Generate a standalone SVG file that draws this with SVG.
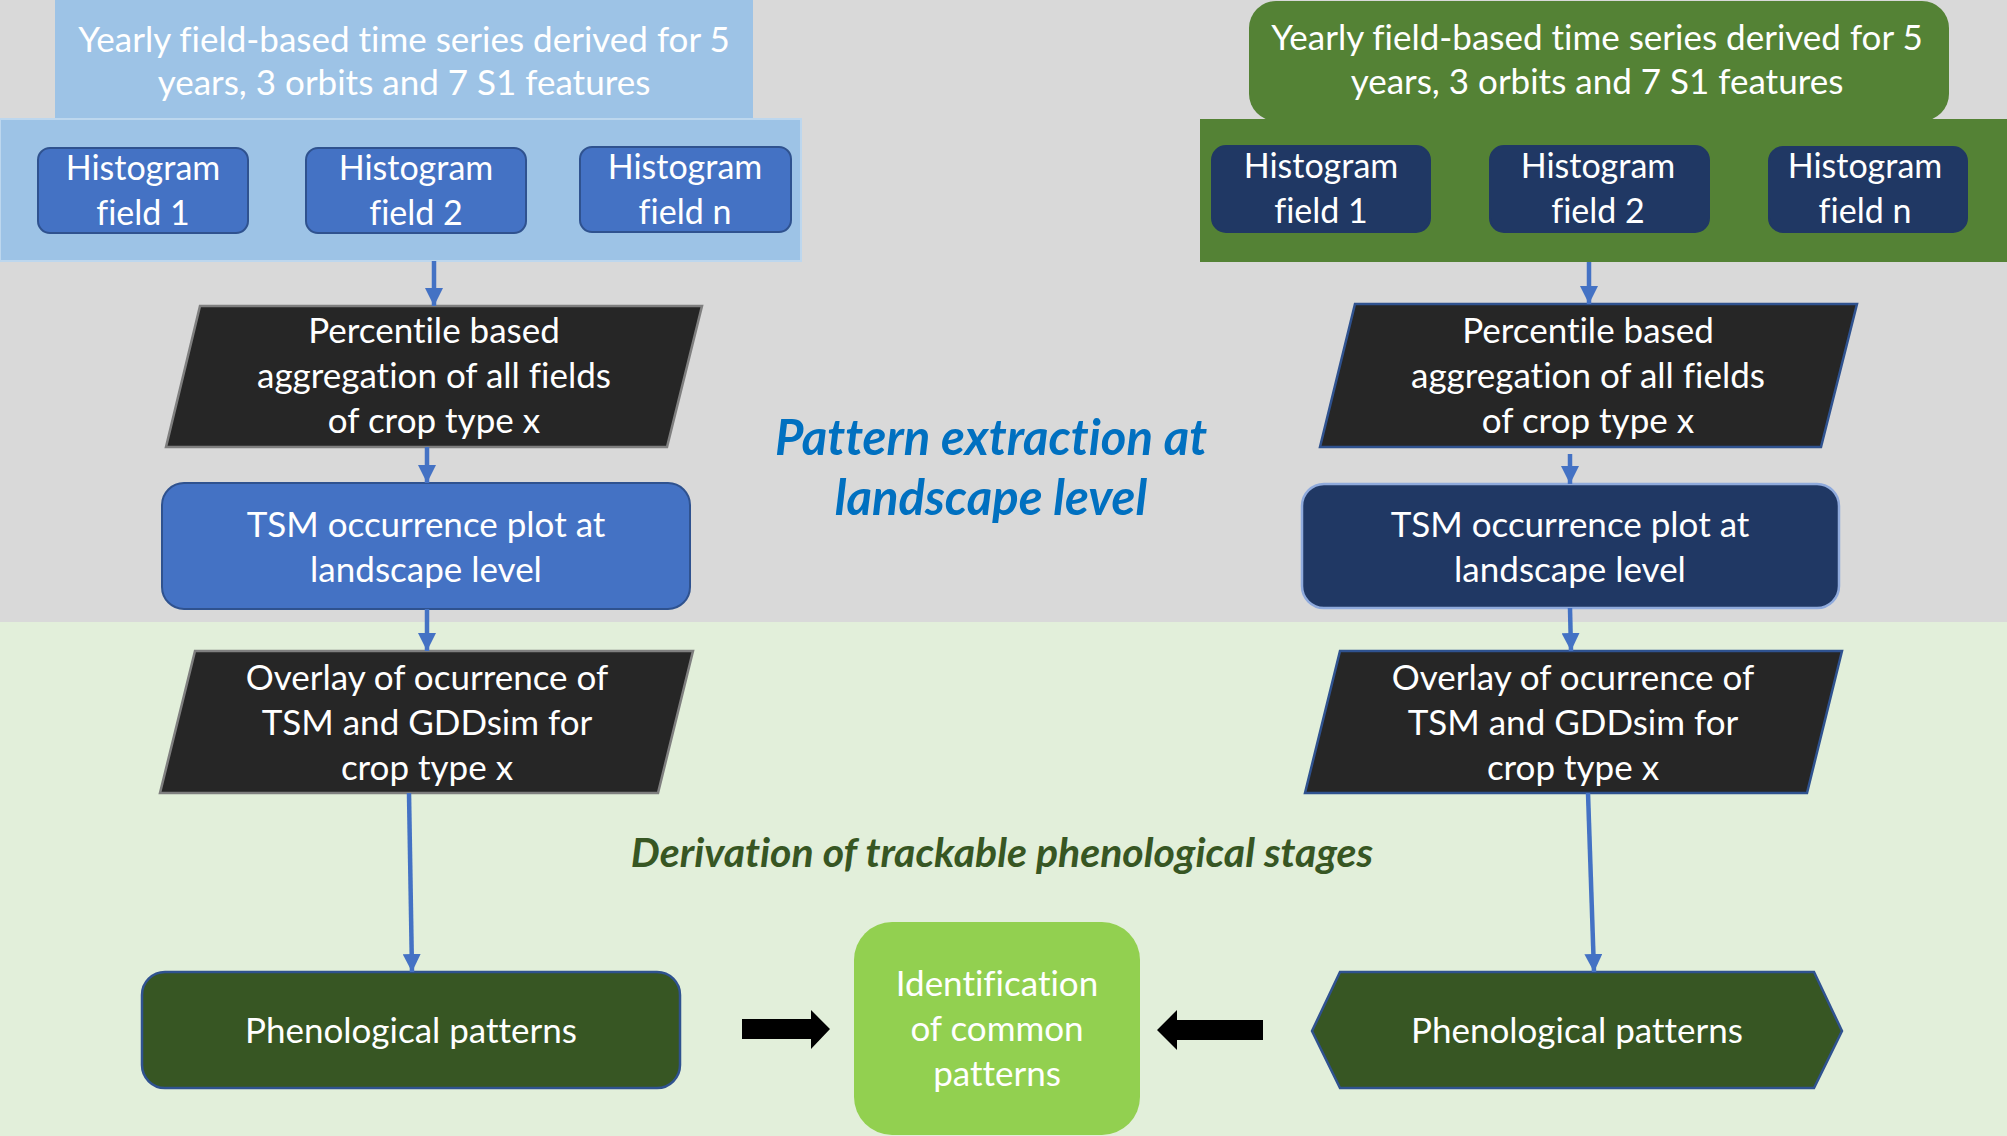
<svg xmlns="http://www.w3.org/2000/svg" width="2007" height="1136" viewBox="0 0 2007 1136">
<defs>
<marker id="ah" markerUnits="userSpaceOnUse" markerWidth="20" markerHeight="18" viewBox="0 0 20 18" refX="18" refY="9" orient="auto">
<path d="M0,0 L18,9 L0,18 z" fill="#4472C4"/>
</marker>
<style>
text{font-family:Lato,"Open Sans","Liberation Sans",sans-serif;fill:#fff;text-anchor:middle;font-variant-ligatures:none}
.t{font-size:35px}
.h{font-size:34px}
.lblue{fill:#0070C0;font-weight:bold;font-style:italic;font-size:49px}
.lgreen{fill:#375623;font-weight:bold;font-style:italic;font-size:41px}
.hl{fill:#4472C4;stroke:#2F528F;stroke-width:2}
.hr{fill:#203864;stroke:#203864;stroke-width:2}
.par{fill:#262626;stroke:#7F7F7F;stroke-width:2.5}
.parb{fill:#262626;stroke:#2F528F;stroke-width:2.5}
.ph{fill:#375623;stroke:#2F528F;stroke-width:2.5}
.c{stroke:#4472C4;stroke-width:4.5;fill:none;marker-end:url(#ah)}
</style>
</defs>
<rect x="0" y="0" width="2007" height="622" fill="#D9D9D9"/>
<rect x="0" y="622" width="2007" height="514" fill="#E2EFDA"/>

<g id="left-top">
<rect x="55" y="0" width="698" height="121" fill="#9DC3E6"/>
<text class="t" x="404" y="52">Yearly field-based time series derived for 5</text>
<text class="t" x="404" y="95">years, 3 orbits and 7 S1 features</text>
</g>
<g id="left-band">
<rect x="0" y="119" width="801" height="142" fill="#9DC3E6" stroke="#BDD7EE" stroke-width="2"/>
</g>
<g id="left-hist1">
<rect class="hl" x="38" y="148" width="210" height="85" rx="12"/>
<text class="h" x="143" y="180">Histogram</text>
<text class="h" x="143" y="225">field 1</text>
</g>
<g id="left-hist2">
<rect class="hl" x="306" y="148" width="220" height="85" rx="12"/>
<text class="h" x="416" y="180">Histogram</text>
<text class="h" x="416" y="225">field 2</text>
</g>
<g id="left-histn">
<rect class="hl" x="580" y="147" width="211" height="85" rx="12"/>
<text class="h" x="685" y="179">Histogram</text>
<text class="h" x="685" y="224">field n</text>
</g>
<g id="left-percentile">
<polygon class="par" points="200,306 702,306 667,447 166,447"/>
<text class="t" x="434" y="343">Percentile based</text>
<text class="t" x="434" y="388">aggregation of all fields</text>
<text class="t" x="434" y="433">of crop type x</text>
</g>
<g id="left-tsm">
<rect class="hl" x="162" y="483" width="528" height="126" rx="22"/>
<text class="t" x="426" y="537">TSM occurrence plot at</text>
<text class="t" x="426" y="582">landscape level</text>
</g>
<g id="left-overlay">
<polygon class="par" points="195,651 693,651 658,793 160,793"/>
<text class="t" x="427" y="690">Overlay of ocurrence of</text>
<text class="t" x="427" y="735">TSM and GDDsim for</text>
<text class="t" x="427" y="780">crop type x</text>
</g>
<g id="left-pheno">
<rect class="ph" x="142" y="972" width="538" height="116" rx="23"/>
<text class="t" x="411" y="1043">Phenological patterns</text>
</g>

<g id="right-top">
<rect x="1249" y="1" width="700" height="120" rx="27" fill="#548235"/>
<text class="t" x="1597" y="50">Yearly field-based time series derived for 5</text>
<text class="t" x="1597" y="94">years, 3 orbits and 7 S1 features</text>
</g>
<g id="right-band">
<rect x="1200" y="119" width="807" height="143" fill="#548235"/>
</g>
<g id="right-hist1">
<rect class="hr" x="1212" y="146" width="218" height="86" rx="14"/>
<text class="h" x="1321" y="178">Histogram</text>
<text class="h" x="1321" y="223">field 1</text>
</g>
<g id="right-hist2">
<rect class="hr" x="1490" y="146" width="219" height="86" rx="14"/>
<text class="h" x="1598" y="178">Histogram</text>
<text class="h" x="1598" y="223">field 2</text>
</g>
<g id="right-histn">
<rect class="hr" x="1769" y="147" width="198" height="85" rx="14"/>
<text class="h" x="1865" y="178">Histogram</text>
<text class="h" x="1865" y="223">field n</text>
</g>
<g id="right-percentile">
<polygon class="parb" points="1355,304 1857,304 1821,447 1320,447"/>
<text class="t" x="1588" y="343">Percentile based</text>
<text class="t" x="1588" y="388">aggregation of all fields</text>
<text class="t" x="1588" y="433">of crop type x</text>
</g>
<g id="right-tsm">
<rect x="1302" y="484" width="537" height="124" rx="22" fill="#203864" stroke="#8FAADC" stroke-width="2.5"/>
<text class="t" x="1570" y="537">TSM occurrence plot at</text>
<text class="t" x="1570" y="582">landscape level</text>
</g>
<g id="right-overlay">
<polygon class="parb" points="1340,651 1842,651 1807,793 1305,793"/>
<text class="t" x="1573" y="690">Overlay of ocurrence of</text>
<text class="t" x="1573" y="735">TSM and GDDsim for</text>
<text class="t" x="1573" y="780">crop type x</text>
</g>
<g id="right-pheno">
<polygon class="ph" points="1340,972 1814,972 1842,1031 1814,1088 1340,1088 1312,1031"/>
<text class="t" x="1577" y="1043">Phenological patterns</text>
</g>

<g id="identification">
<rect x="854" y="922" width="286" height="213" rx="38" fill="#92D050"/>
<text class="t" x="997" y="996">Identification</text>
<text class="t" x="997" y="1041">of common</text>
<text class="t" x="997" y="1086">patterns</text>
</g>

<g id="labels">
<text class="lblue" x="991" y="455">Pattern extraction at</text>
<text class="lblue" x="991" y="515">landscape level</text>
<text class="lgreen" x="1002" y="867">Derivation of trackable phenological stages</text>
</g>

<g id="connectors">
<line class="c" x1="434" y1="261" x2="434" y2="306"/>
<line class="c" x1="427" y1="447" x2="427" y2="483"/>
<line class="c" x1="427" y1="609" x2="427" y2="651"/>
<line class="c" x1="409" y1="793" x2="412" y2="972"/>
<line class="c" x1="1589" y1="262" x2="1589" y2="304"/>
<line class="c" x1="1570" y1="454" x2="1570" y2="484"/>
<line class="c" x1="1570" y1="608" x2="1571" y2="651"/>
<line class="c" x1="1588" y1="793" x2="1594" y2="972"/>
<path d="M742,1019 L811,1019 L811,1010 L830,1029 L811,1049 L811,1039 L742,1039 z" fill="#000"/>
<path d="M1263,1020 L1177,1020 L1177,1010 L1157,1030 L1177,1050 L1177,1040 L1263,1040 z" fill="#000"/>
</g>
</svg>
